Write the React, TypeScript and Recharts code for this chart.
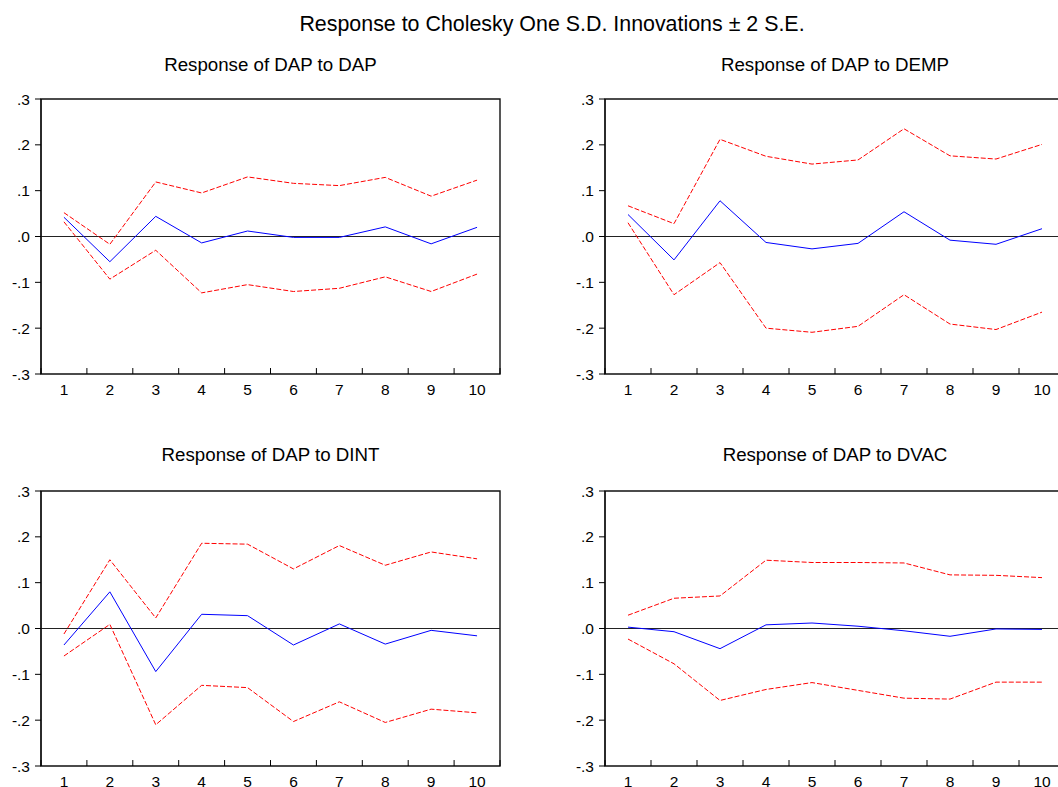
import React from "react";
import {
  LineChart,
  Line,
  XAxis,
  YAxis,
  ReferenceLine,
  ReferenceArea,
} from "recharts";

const FONT = "'Liberation Sans', Arial, sans-serif";

// periods after the shock
const periods = [1, 2, 3, 4, 5, 6, 7, 8, 9, 10];
const bandEdges = [0.5, 1.5, 2.5, 3.5, 4.5, 5.5, 6.5, 7.5, 8.5, 9.5, 10.5];
const yTicks = [-0.3, -0.2, -0.1, 0, 0.1, 0.2, 0.3];

// Response of DAP to DAP
const dapResp = [0.042, -0.055, 0.044, -0.014, 0.012, -0.002, -0.002, 0.021, -0.016, 0.02];
const dapUpper = [0.052, -0.017, 0.119, 0.095, 0.13, 0.116, 0.111, 0.129, 0.088, 0.123];
const dapLower = [0.032, -0.093, -0.03, -0.123, -0.105, -0.12, -0.113, -0.088, -0.12, -0.082];

// Response of DAP to DEMP
const dempResp = [0.048, -0.051, 0.078, -0.013, -0.027, -0.015, 0.054, -0.008, -0.017, 0.017];
const dempUpper = [0.067, 0.028, 0.212, 0.175, 0.158, 0.167, 0.235, 0.176, 0.169, 0.201];
const dempLower = [0.03, -0.127, -0.057, -0.2, -0.209, -0.196, -0.127, -0.191, -0.203, -0.165];

// Response of DAP to DINT
const dintResp = [-0.036, 0.08, -0.094, 0.031, 0.028, -0.036, 0.01, -0.034, -0.004, -0.016];
const dintUpper = [-0.012, 0.15, 0.023, 0.186, 0.184, 0.13, 0.181, 0.138, 0.167, 0.152];
const dintLower = [-0.06, 0.009, -0.21, -0.124, -0.129, -0.203, -0.16, -0.205, -0.176, -0.184];

// Response of DAP to DVAC
const dvacResp = [0.003, -0.007, -0.044, 0.008, 0.012, 0.005, -0.005, -0.017, -0.001, -0.002];
const dvacUpper = [0.029, 0.066, 0.071, 0.149, 0.144, 0.144, 0.143, 0.117, 0.116, 0.111];
const dvacLower = [-0.023, -0.077, -0.157, -0.133, -0.118, -0.135, -0.152, -0.154, -0.117, -0.117];

const toRows = (resp: number[], upper: number[], lower: number[]) =>
  periods.map((p, i) => ({ period: p, resp: resp[i], upper: upper[i], lower: lower[i] }));

const fmtY = (v: number) => v.toFixed(1).replace("0.", ".");

const tickStyle = { fill: "#000", fontSize: 15.5, fontFamily: FONT };

type PanelProps = {
  left: number;
  top: number;
  width: number;
  data: { period: number; resp: number; upper: number; lower: number }[];
};

function Panel({ left, top, width, data }: PanelProps) {
  return (
    <div style={{ position: "absolute", left, top }}>
      <LineChart
        width={width}
        height={324}
        data={data}
        margin={{ top: 19, right: width > 510 ? 20 : 0, left: 0, bottom: 0 }}
      >
        <XAxis
          dataKey="period"
          type="number"
          domain={[0.5, 10.5]}
          ticks={periods}
          allowDataOverflow
          axisLine={false}
          tickLine={false}
          tickSize={0}
          tickMargin={10}
          height={30}
          tick={tickStyle}
          interval={0}
        />
        <YAxis
          type="number"
          domain={[-0.3, 0.3]}
          ticks={yTicks}
          allowDataOverflow
          width={41}
          axisLine={{ stroke: "#000", strokeWidth: 1 }}
          tickLine={{ stroke: "#000" }}
          tickSize={6}
          tickMargin={5}
          tickFormatter={fmtY}
          tick={tickStyle}
          interval={0}
        />
        <ReferenceArea
          x1={0.5}
          x2={10.5}
          y1={-0.3}
          y2={0.3}
          fill="none"
          stroke="#111"
          strokeWidth={1.4}
          fillOpacity={0}
        />
        {/* EViews puts the x tick marks on the band edges, pointing inward */}
        {bandEdges.map((e) => (
          <ReferenceLine
            key={e}
            segment={[
              { x: e, y: -0.3 },
              { x: e, y: -0.287 },
            ]}
            stroke="#000"
          />
        ))}
        <ReferenceLine y={0} stroke="#222" strokeWidth={1} />
        <Line
          dataKey="upper"
          stroke="#ff0000"
          strokeDasharray="5 2"
          strokeWidth={1}
          dot={false}
          isAnimationActive={false}
        />
        <Line
          dataKey="lower"
          stroke="#ff0000"
          strokeDasharray="5 2"
          strokeWidth={1}
          dot={false}
          isAnimationActive={false}
        />
        <Line
          dataKey="resp"
          stroke="#0000ff"
          strokeWidth={1}
          dot={false}
          isAnimationActive={false}
        />
      </LineChart>
    </div>
  );
}

export default function App() {
  return (
    <div
      style={{
        position: "absolute",
        left: 0,
        top: 0,
        width: 1058,
        height: 787,
        overflow: "hidden",
        background: "#fff",
      }}
    >
      <svg
        width={1058}
        height={787}
        style={{ position: "absolute", left: 0, top: 0 }}
        fontFamily={FONT}
      >
        <text x={552} y={30.5} fontSize={21.4} textAnchor="middle" fill="#000">
          Response to Cholesky One S.D. Innovations ± 2 S.E.
        </text>
        <text x={270.5} y={71} fontSize={18.7} textAnchor="middle" fill="#000">
          Response of DAP to DAP
        </text>
        <text x={835} y={71} fontSize={18.7} textAnchor="middle" fill="#000">
          Response of DAP to DEMP
        </text>
        <text x={270.5} y={461} fontSize={18.7} textAnchor="middle" fill="#000">
          Response of DAP to DINT
        </text>
        <text x={835} y={461} fontSize={18.7} textAnchor="middle" fill="#000">
          Response of DAP to DVAC
        </text>
      </svg>
      <Panel left={0} top={80} width={520} data={toRows(dapResp, dapUpper, dapLower)} />
      <Panel left={564} top={80} width={501} data={toRows(dempResp, dempUpper, dempLower)} />
      <Panel left={0} top={472} width={520} data={toRows(dintResp, dintUpper, dintLower)} />
      <Panel left={564} top={472} width={501} data={toRows(dvacResp, dvacUpper, dvacLower)} />
    </div>
  );
}
